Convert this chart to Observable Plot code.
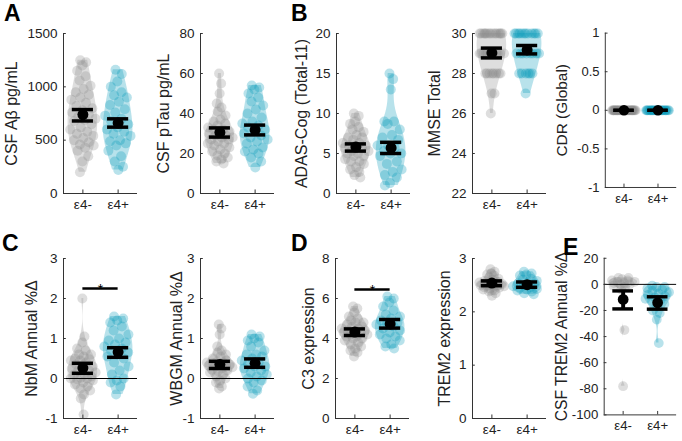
<!DOCTYPE html>
<html><head><meta charset="utf-8">
<script src="https://cdn.jsdelivr.net/npm/d3@7"></script>
<script src="https://cdn.jsdelivr.net/npm/@observablehq/plot@0.6"></script>
<style>
body{margin:0;background:#fff;}
#fig{position:relative;width:682px;height:441px;overflow:hidden;font-family:"Liberation Sans",Arial,sans-serif;background:#fff;}
.panel{position:absolute;}
.letter{position:absolute;font-weight:bold;font-size:23px;line-height:1;color:#000;}
</style></head><body>
<div id="fig"></div>
<script>
// ---------- data ----------
const groups = ["ε4-", "ε4+"];

// A: CSF Aβ
const abetaNeg = [1250,1230,1200,1150,1100,1060,1010,980,950,925,900,880,850,820,800,780,760,740,720,700,690,680,650,620,600,580,560,540,520,500,480,460,450,430,400,350,300,200];
const abetaPos = [1160,1120,1050,1000,950,920,900,860,830,790,760,730,700,680,650,620,600,580,560,540,500,490,470,450,400,350,300,250,220];
const abetaMean = [740, 660], abetaLo = [680, 622], abetaHi = [787, 700];
const abetaTicks = [0, 500, 1000, 1500];

// A: CSF pTau
const ptauNeg = [60,55,50,45,43,41,39,37,36,35,34,33,32,32,31,30,30,29,29,28,28,27,27,26,25,25,24,23,22,21,20,19,18,17,16,15];
const ptauPos = [54,53,52,50,48,46,44,42,40,38,36,35,34,33,32,31,30,29,28,27,26,25,23,22,21,20,18,16,13];
const ptauMean = [30.5, 31.8], ptauLo = [28.2, 29.3], ptauHi = [32.8, 34.2];
const ptauTicks = [0, 20, 40, 60, 80];

// B: ADAS-Cog
const adasNeg = [10,9.7,9,8.7,8.3,8,7.7,7.3,7,7,6.7,6.3,6.3,6,6,6,5.7,5.7,5.3,5.3,5,5,4.7,4.7,4.3,4,4,3.7,3.3,3,2.7,2.3,2];
const adasPos = [15,14.3,13,9,9,8.7,8,7.3,7,6.7,6,6,5.7,5.3,5,5,4.7,4,3.7,3,2.7,2.3,2,1.3,1];
const adasMean = [5.8, 5.7], adasLo = [5.3, 5.0], adasHi = [6.2, 6.4];
const adasTicks = [0, 5, 10, 15, 20];

// B: MMSE
const mmseNeg = [30,30,30,30,30,30,30,30,30,30,30,30,30,30,30,29,29,29,29,29,29,29,29,29,29,29,29,28,28,28,28,28,28,28,28,27,27,26];
const mmsePos = [30,30,30,30,30,30,30,30,30,30,30,30,29,29,29,29,29,29,29,29,28,28,28,28,28,28,27];
const mmseMean = [29.03, 29.18], mmseLo = [28.78, 28.98], mmseHi = [29.27, 29.4];
const mmseTicks = [22, 24, 26, 28, 30];

// B: CDR
const cdrNeg = [0,0,0,0,0,0,0,0,0,0,0,0,0,0,0,0,0,0,0,0,0,0,0,0,0,0,0,0,0,0,0,0,0,0,0,0,0,0];
const cdrPos = [0,0,0,0,0,0,0,0,0,0,0,0,0,0,0,0,0,0,0,0,0,0,0,0,0,0,0];
const cdrMean = [0, 0], cdrLo = [0, 0], cdrHi = [0, 0];
const cdrTicks = [-1, -0.5, 0, 0.5, 1];

// C: NbM
const nbmNeg = [2.0,1.05,0.9,0.75,0.7,0.6,0.6,0.55,0.5,0.48,0.45,0.45,0.4,0.35,0.3,0.3,0.25,0.2,0.2,0.15,0.1,0.1,0.05,0.02,0,0,-0.02,-0.05,-0.1,-0.15,-0.2,-0.25,-0.3,-0.4,-0.5,-0.9];
const nbmPos = [1.55,1.5,1.45,1.4,1.3,1.2,1.1,1.0,0.95,0.9,0.85,0.8,0.75,0.7,0.65,0.6,0.55,0.5,0.4,0.3,0.2,0.1,0.0,-0.05,-0.1,-0.2,-0.4];
const nbmMean = [0.26, 0.66], nbmLo = [0.13, 0.53], nbmHi = [0.38, 0.77];
const nbmSig = 2.25;
const nbmTicks = [-1, 0, 1, 2, 3];

// C: WBGM
const wbgmNeg = [1.35,1.25,1.1,0.8,0.7,0.65,0.6,0.55,0.5,0.45,0.42,0.4,0.4,0.38,0.35,0.35,0.32,0.3,0.3,0.28,0.25,0.22,0.2,0.18,0.15,0.1,0.05,0,-0.05,-0.1,-0.2,-0.25];
const wbgmPos = [1.1,1.05,1.0,0.95,0.9,0.8,0.7,0.6,0.6,0.55,0.5,0.45,0.4,0.35,0.3,0.3,0.25,0.2,0.15,0.1,0.05,0,-0.05,-0.1,-0.2,-0.3,-0.38];
const wbgmMean = [0.35, 0.38], wbgmLo = [0.25, 0.28], wbgmHi = [0.43, 0.49];
const wbgmTicks = [-1, 0, 1, 2, 3];

// D: C3 expression
const c3Neg = [5.6,5.5,5.3,5.1,5.0,4.9,4.8,4.8,4.7,4.6,4.6,4.5,4.5,4.4,4.4,4.3,4.3,4.25,4.2,4.2,4.1,4.1,4.0,4.0,3.9,3.8,3.7,3.6,3.5,3.4,3.3,3.1];
const c3Pos = [6.1,6.0,5.8,5.6,5.4,5.2,5.1,5.0,4.9,4.8,4.75,4.7,4.6,4.5,4.4,4.3,4.2,4.1,4.0,3.9,3.7,3.6,3.5];
const c3Mean = [4.32, 4.73], c3Lo = [4.15, 4.52], c3Hi = [4.48, 4.95];
const c3Sig = 6.45;
const c3Ticks = [0, 2, 4, 6, 8];

// D: TREM2 expression
const trem2Neg = [2.8,2.75,2.72,2.7,2.68,2.65,2.62,2.6,2.58,2.56,2.55,2.55,2.54,2.53,2.52,2.51,2.5,2.5,2.49,2.48,2.47,2.46,2.45,2.44,2.42,2.4,2.38,2.35,2.3];
const trem2Pos = [2.75,2.72,2.7,2.68,2.62,2.6,2.58,2.55,2.53,2.52,2.5,2.48,2.46,2.45,2.43,2.42,2.4,2.38,2.35,2.33];
const trem2Mean = [2.54, 2.51], trem2Lo = [2.49, 2.46], trem2Hi = [2.58, 2.56];
const trem2Ticks = [0, 1, 2, 3];

// E: CSF TREM2 annual change
const csfTrem2Neg = [5,5,4,3,3,2,2,1,1,0,0,-1,-2,-4,-35,-78];
const csfTrem2Pos = [-1,-2,-2,-3,-4,-5,-6,-7,-8,-9,-10,-11,-12,-13,-15,-17,-20,-22,-27,-45];
const csfTrem2Mean = [-11.5, -14], csfTrem2Lo = [-18.8, -19], csfTrem2Hi = [-5, -9.5];
const csfTrem2Ticks = [-100, -80, -60, -40, -20, 0, 20];

// ---------- panel layout ----------
const ROW1 = 33, ROW2 = 258;
const panels = [
  {neg: abetaNeg, pos: abetaPos, mean: abetaMean, lo: abetaLo, hi: abetaHi, ticks: abetaTicks, domain: [0, 1500], label: "CSF Aβ pg/mL", ax: 63, top: ROW1, lab: 58},
  {neg: ptauNeg, pos: ptauPos, mean: ptauMean, lo: ptauLo, hi: ptauHi, ticks: ptauTicks, domain: [0, 80], label: "CSF pTau pg/mL", ax: 200, top: ROW1, lab: 43},
  {neg: adasNeg, pos: adasPos, mean: adasMean, lo: adasLo, hi: adasHi, ticks: adasTicks, domain: [0, 20], label: "ADAS-Cog (Total-11)", ax: 336, top: ROW1, lab: 41},
  {neg: mmseNeg, pos: mmsePos, mean: mmseMean, lo: mmseLo, hi: mmseHi, ticks: mmseTicks, domain: [22, 30], label: "MMSE Total", ax: 472, top: ROW1, lab: 44},
  {neg: cdrNeg, pos: cdrPos, mean: cdrMean, lo: cdrLo, hi: cdrHi, ticks: cdrTicks, domain: [-1, 1], label: "CDR (Global)", ax: 607, top: ROW1, lab: 51},
  {neg: nbmNeg, pos: nbmPos, mean: nbmMean, lo: nbmLo, hi: nbmHi, ticks: nbmTicks, domain: [-1, 3], label: "NbM Annual %Δ", ax: 63, top: ROW2, lab: 38, zero: true, sig: nbmSig},
  {neg: wbgmNeg, pos: wbgmPos, mean: wbgmMean, lo: wbgmLo, hi: wbgmHi, ticks: wbgmTicks, domain: [-1, 3], label: "WBGM Annual %Δ", ax: 200, top: ROW2, lab: 30, zero: true},
  {neg: c3Neg, pos: c3Pos, mean: c3Mean, lo: c3Lo, hi: c3Hi, ticks: c3Ticks, domain: [0, 8], label: "C3 expression", ax: 335, top: ROW2, lab: 33, sig: c3Sig},
  {neg: trem2Neg, pos: trem2Pos, mean: trem2Mean, lo: trem2Lo, hi: trem2Hi, ticks: trem2Ticks, domain: [0, 3], label: "TREM2 expression", ax: 472, top: ROW2, lab: 34},
  {neg: csfTrem2Neg, pos: csfTrem2Pos, mean: csfTrem2Mean, lo: csfTrem2Lo, hi: csfTrem2Hi, ticks: csfTrem2Ticks, domain: [-100, 20], label: "CSF TREM2 Annual %Δ", ax: 605, top: ROW2, lab: 49, zero: true}
];
const letters = [
  {t: "A", x: 4, y: 2}, {t: "B", x: 291, y: 2},
  {t: "C", x: 2, y: 232}, {t: "D", x: 291, y: 232}, {t: "E", x: 563, y: 236}
];

const ML = 62, MR = 6, MT = 10, MB = 30, FW = 74, FH = 160;
const XD = [0.45, 2.55];
const HALF = 0.42;          // max violin half-width (x units)
const CAP = 0.3;            // error bar cap half-width
const AXC = "#333";
const COLORS = ["#8a8a8a", "#0098b6"];

function violinOf(vals) {
  const lo = d3.min(vals), hi = d3.max(vals);
  if (hi === lo) return null;
  const med = d3.median(vals);
  let sig = d3.median(vals, d => Math.abs(d - med)) / 0.6745;
  if (!(sig > 0)) sig = d3.deviation(vals);
  const h = sig * Math.pow(4 / (3 * vals.length), 0.2);
  const f = y => d3.sum(vals, d => Math.exp(-0.5 * ((y - d) / h) ** 2));
  const grid = d3.range(121).map(i => lo + (hi - lo) * i / 120);
  const dens = grid.map(f);
  const m = d3.max(dens);
  return {grid, dens: dens.map(d => d / m), at: y => f(y) / m};
}

function jit(i) { return ((i * 0.6180339887 + 0.21) % 1) * 2 - 1; }

function makePanel(p) {
  const [y0, y1] = p.domain;
  const span = y1 - y0;
  const marks = [];
  [p.neg, p.pos].forEach((vals, gi) => {
    const cx = gi + 1;
    const v = violinOf(vals);
    if (v) {
      const vd = v.grid.map((y, k) => ({y, x1: cx - HALF * v.dens[k], x2: cx + HALF * v.dens[k]}));
      marks.push(Plot.areaX(vd, {y: "y", x1: "x1", x2: "x2", fill: COLORS[gi], fillOpacity: 0.28}));
    }
    const pd = vals.map((y, i) => ({y, x: cx + jit(i) * (v ? HALF * 0.95 * v.at(y) : 0.36)}));
    marks.push(Plot.dot(pd, {x: "x", y: "y", r: 5, fill: COLORS[gi], fillOpacity: 0.28}));
  });
  if (p.zero) marks.push(Plot.ruleY([0], {stroke: "#000", strokeWidth: 1}));
  const ed = groups.map((g, i) => ({x: i + 1, m: p.mean[i], lo: p.lo[i], hi: p.hi[i]}));
  marks.push(
    Plot.ruleX(ed, {x: "x", y1: "lo", y2: "hi", stroke: "#000", strokeWidth: 4}),
    Plot.ruleY(ed, {y: "lo", x1: d => d.x - CAP, x2: d => d.x + CAP, stroke: "#000", strokeWidth: 3.5}),
    Plot.ruleY(ed, {y: "hi", x1: d => d.x - CAP, x2: d => d.x + CAP, stroke: "#000", strokeWidth: 3.5}),
    Plot.dot(ed, {x: "x", y: "m", r: 5.5, fill: "#000"})
  );
  if (p.sig !== undefined) {
    marks.push(
      Plot.ruleY([p.sig], {x1: 1, x2: 2, stroke: "#000", strokeWidth: 2.5}),
      Plot.text(["*"], {x: 1.5, y: p.sig, text: d => d, fontSize: 14, lineAnchor: "middle", dy: 1, fill: "#000"})
    );
  }
  // axis lines and inward ticks
  marks.push(
    Plot.ruleX([XD[0]], {stroke: AXC, strokeWidth: 1}),
    Plot.ruleY([y0], {stroke: AXC, strokeWidth: 1}),
    Plot.ruleY(p.ticks, {y: d => d, x1: XD[0], x2: XD[0] + 0.08, stroke: AXC}),
    Plot.ruleX([1, 2], {x: d => d, y1: y0, y2: y0 + span * 0.022, stroke: AXC}),
    Plot.axisY(p.ticks, {tickSize: 0, tickPadding: 6, tickFormat: d => String(d), label: null, fontSize: 13.5, fill: "#222"}),
    Plot.axisX([1, 2], {tickSize: 0, tickPadding: 6, tickFormat: d => groups[d - 1], label: null, fontSize: 13.5, fill: "#222"}),
    Plot.text([p.label], {frameAnchor: "left", rotate: -90, textAnchor: "middle", lineAnchor: "top", dx: -p.lab, text: d => d, fontSize: 16, fill: "#222"})
  );
  return Plot.plot({
    width: ML + FW + MR, height: MT + FH + MB,
    marginLeft: ML, marginRight: MR, marginTop: MT, marginBottom: MB,
    x: {domain: XD}, y: {domain: p.domain},
    style: {background: "transparent", overflow: "visible", fontFamily: "'Liberation Sans', Arial, sans-serif", color: "#222"},
    marks
  });
}

const fig = document.getElementById("fig");
panels.forEach(p => {
  const div = document.createElement("div");
  div.className = "panel";
  div.style.left = (p.ax - ML) + "px";
  div.style.top = (p.top - MT) + "px";
  div.appendChild(makePanel(p));
  fig.appendChild(div);
});
letters.forEach(l => {
  const d = document.createElement("div");
  d.className = "letter";
  d.textContent = l.t;
  d.style.left = l.x + "px";
  d.style.top = l.y + "px";
  fig.appendChild(d);
});
</script>
</body></html>
